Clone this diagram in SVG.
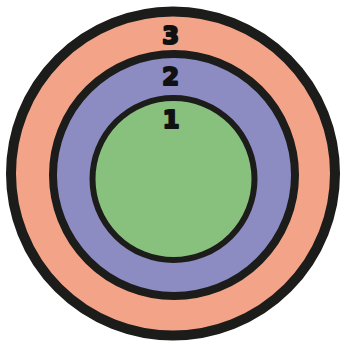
<svg xmlns="http://www.w3.org/2000/svg" width="342" height="348" viewBox="0 0 342 348">
<style>
.ring{stroke:#1c1c1a}
.lbl{font-family:"DejaVu Sans",sans-serif;font-weight:bold;font-size:24px;fill:#111;stroke:#111;stroke-width:2.2;stroke-linejoin:round;text-anchor:middle}
</style>
<rect width="342" height="348" fill="#ffffff"/>
<g id="ring3">
<circle class="ring" cx="173" cy="173.5" r="162" fill="#F3A488" stroke-width="10"/>
<text class="lbl" x="170.5" y="44">3</text>
</g>
<g id="ring2">
<circle class="ring" cx="174" cy="175" r="121" fill="#8C8CC3" stroke-width="8"/>
<text class="lbl" x="170.5" y="85">2</text>
</g>
<g id="ring1">
<circle class="ring" cx="173.5" cy="179" r="81" fill="#88C17D" stroke-width="6"/>
<text class="lbl" x="171" y="128">1</text>
</g>
<g id="connectors"/>
</svg>
